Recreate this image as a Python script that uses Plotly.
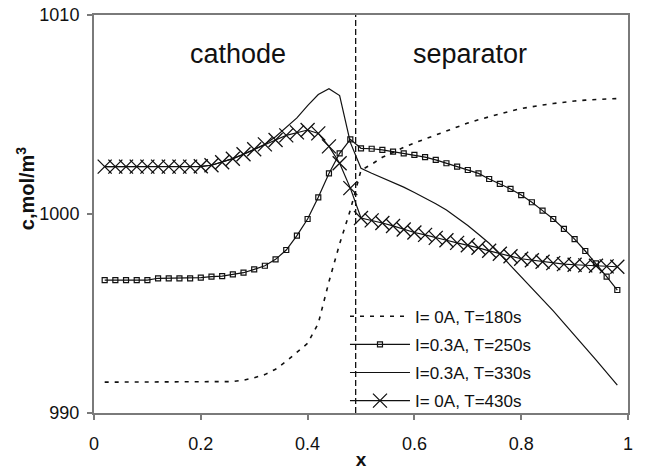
import plotly.graph_objects as go

# Dimensionless position across cathode + separator
x_pos = [0.02, 0.04, 0.06, 0.08, 0.10, 0.12, 0.14, 0.16, 0.18, 0.20,
         0.22, 0.24, 0.26, 0.28, 0.30, 0.32, 0.34, 0.36, 0.38, 0.40,
         0.42, 0.44, 0.46, 0.48, 0.50, 0.52, 0.54, 0.56, 0.58, 0.60,
         0.62, 0.64, 0.66, 0.68, 0.70, 0.72, 0.74, 0.76, 0.78, 0.80,
         0.82, 0.84, 0.86, 0.88, 0.90, 0.92, 0.94, 0.96, 0.98]

# Electrolyte concentration, mol/m^3
c_0A_180s = [991.55, 991.55, 991.55, 991.55, 991.55, 991.55, 991.55, 991.55, 991.55, 991.55,
             991.55, 991.55, 991.58, 991.65, 991.77, 991.93, 992.20, 992.60, 993.05, 993.50,
             994.50, 996.60, 998.50, 1000.20, 1002.20, 1002.50, 1002.85, 1003.12, 1003.35, 1003.57,
             1003.77, 1003.98, 1004.18, 1004.40, 1004.57, 1004.74, 1004.89, 1005.03, 1005.17, 1005.30,
             1005.40, 1005.48, 1005.55, 1005.62, 1005.68, 1005.72, 1005.76, 1005.78, 1005.80]

c_03A_250s = [996.68, 996.68, 996.68, 996.68, 996.68, 996.77, 996.77, 996.77, 996.77, 996.80,
              996.85, 996.88, 996.97, 997.05, 997.22, 997.40, 997.72, 998.19, 998.91, 999.75,
              1000.84, 1002.04, 1003.05, 1003.75, 1003.30, 1003.28, 1003.22, 1003.13, 1003.05, 1002.97,
              1002.86, 1002.72, 1002.55, 1002.38, 1002.21, 1002.04, 1001.76, 1001.51, 1001.26, 1000.95,
              1000.59, 1000.17, 999.75, 999.25, 998.74, 998.14, 997.52, 996.85, 996.18]

c_03A_330s = [1002.38, 1002.38, 1002.38, 1002.38, 1002.38, 1002.38, 1002.38, 1002.38, 1002.38, 1002.38,
              1002.45, 1002.60, 1002.78, 1003.00, 1003.25, 1003.50, 1003.88, 1004.35, 1004.83, 1005.45,
              1006.00, 1006.30, 1005.95, 1003.60, 1002.30, 1002.05, 1001.82, 1001.58, 1001.35, 1001.08,
              1000.82, 1000.52, 1000.20, 999.83, 999.42, 998.98, 998.53, 997.98, 997.42, 996.85,
              996.28, 995.70, 995.13, 994.52, 993.88, 993.28, 992.67, 992.05, 991.40]

c_0A_430s = [1002.38, 1002.38, 1002.38, 1002.38, 1002.38, 1002.38, 1002.38, 1002.38, 1002.38, 1002.40,
             1002.45, 1002.60, 1002.78, 1003.00, 1003.25, 1003.50, 1003.72, 1003.95, 1004.10, 1004.22,
             1004.05, 1003.40, 1002.55, 1001.30, 999.80, 999.68, 999.55, 999.40, 999.22, 999.07,
             998.95, 998.80, 998.68, 998.55, 998.43, 998.30, 998.15, 998.00, 997.88, 997.75,
             997.68, 997.60, 997.53, 997.48, 997.45, 997.42, 997.40, 997.37, 997.35]

series_names = ["I= 0A, T=180s", "I=0.3A, T=250s", "I=0.3A, T=330s", "I= 0A, T=430s"]
x_ticks = [0, 0.2, 0.4, 0.6, 0.8, 1]
x_tick_text = ["0", "0.2", "0.4", "0.6", "0.8", "1"]
y_ticks = [990, 1000, 1010]
interface_x = 0.49
region_labels = ["cathode", "separator"]

FONT = "Liberation Sans, Arial, sans-serif"
INK = "#111111"
AXIS = "#7a7a7a"

fig = go.Figure()
fig.add_trace(go.Scatter(
    x=x_pos, y=c_0A_180s, name=series_names[0], mode="lines",
    line=dict(color=INK, width=1.6, dash="4px,6px"), legendgroup="a"))
fig.add_trace(go.Scatter(
    x=x_pos, y=c_03A_250s, name=series_names[1], mode="lines+markers",
    line=dict(color=INK, width=1.2),
    marker=dict(symbol="square-open", size=5, color=INK, line=dict(width=1.2, color=INK)),
    legendgroup="b"))
fig.add_trace(go.Scatter(
    x=x_pos, y=c_03A_330s, name=series_names[2], mode="lines",
    line=dict(color=INK, width=1.2), legendgroup="c"))
fig.add_trace(go.Scatter(
    x=x_pos, y=c_0A_430s, name=series_names[3], mode="lines+markers",
    line=dict(color=INK, width=1.2),
    marker=dict(symbol="x-thin-open", size=14, color=INK, line=dict(width=1.3, color=INK)),
    legendgroup="d"))

# cathode / separator interface
fig.add_shape(type="line", xref="x", yref="paper", x0=interface_x, x1=interface_x, y0=0, y1=1,
              line=dict(color=INK, width=1.3, dash="6px,3px"))

fig.add_annotation(text=region_labels[0], x=0.269, y=1008.05, xref="x", yref="y",
                   showarrow=False, font=dict(family=FONT, size=27, color=INK))
fig.add_annotation(text=region_labels[1], x=0.704, y=1008.05, xref="x", yref="y",
                   showarrow=False, font=dict(family=FONT, size=27, color=INK))
fig.add_annotation(text="<b>c,mol/m<sup>3</sup></b>", textangle=-90, x=-0.129, y=0.565,
                   xref="paper", yref="paper", xanchor="center", yanchor="middle",
                   showarrow=False, font=dict(family=FONT, size=20, color=INK))

axis_common = dict(showgrid=False, zeroline=False, showline=True, linecolor=AXIS, linewidth=2,
                   mirror=True, ticks="outside", ticklen=5, tickwidth=1.5, tickcolor=AXIS,
                   automargin=False, tickfont=dict(family=FONT, size=18, color=INK))

fig.update_layout(
    width=647, height=470,
    margin=dict(l=94, r=19, t=15, b=57),
    paper_bgcolor="white", plot_bgcolor="white",
    font=dict(family=FONT, color=INK),
    xaxis=dict(range=[0, 1], tickvals=x_ticks, ticktext=x_tick_text, ticklabelstandoff=8,
               title=dict(text="<b>x</b>", font=dict(family=FONT, size=19, color=INK), standoff=0),
               **axis_common),
    yaxis=dict(range=[990, 1010], tickvals=y_ticks, ticklabelstandoff=4, **axis_common),
    legend=dict(x=0.47, y=0.287, xanchor="left", yanchor="top", bgcolor="rgba(0,0,0,0)",
                font=dict(family=FONT, size=17, color=INK), itemwidth=60,
                traceorder="grouped", tracegroupgap=3),
)

fig.write_html("out.html")
